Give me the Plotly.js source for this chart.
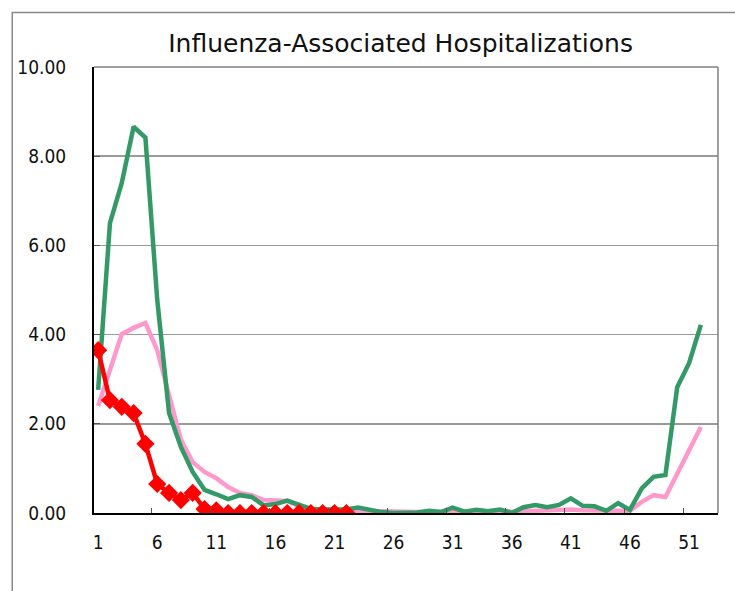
<!DOCTYPE html>
<html>
<head>
<meta charset="utf-8">
<script src="https://cdn.plot.ly/plotly-3.0.1.min.js"></script>
<style>
html,body{margin:0;padding:0;background:#fff;}
#chart{width:735px;height:591px;}
</style>
</head>
<body>
<div id="chart"></div>
<script>
const weeks = [1,2,3,4,5,6,7,8,9,10,11,12,13,14,15,16,17,18,19,20,21,22,23,24,25,26,27,28,29,30,31,32,33,34,35,36,37,38,39,40,41,42,43,44,45,46,47,48,49,50,51,52];
const pinkSeries = [2.40,3.20,4.01,4.15,4.26,3.65,2.69,1.64,1.14,0.92,
  0.78,0.58,0.45,0.40,0.29,0.28,0.27,0.15,0.10,0.08,
  0.06,0.05,0.05,0.04,0.03,0.02,0.02,0.02,0.02,0.03,
  0.03,0.03,0.04,0.04,0.05,0.03,0.04,0.05,0.05,0.08,
  0.08,0.06,0.05,0.04,0.05,0.05,0.25,0.40,0.36,0.88,
  1.40,1.93];
const greenSeries = [2.76,6.50,7.40,8.66,8.42,4.78,2.24,1.48,0.92,0.52,
  0.42,0.31,0.40,0.36,0.17,0.20,0.28,0.18,0.09,0.08,
  0.08,0.08,0.12,0.06,0.02,0.00,0.00,0.01,0.05,0.02,
  0.12,0.03,0.07,0.04,0.08,0.00,0.13,0.18,0.13,0.18,
  0.33,0.16,0.15,0.05,0.22,0.07,0.55,0.81,0.85,2.82,
  3.36,4.22];
const redSeries = [3.65,2.53,2.38,2.24,1.55,0.65,0.45,0.29,0.45,0.09,
  0.06,0,0,0,0,0,0,0,0,0,0,0];
const xTickVals = [1,6,11,16,21,26,31,36,41,46,51];
const xTickText = ['1','6','11','16','21','26','31','36','41','46','51'];
const xMinorTicks = [5.5,10.5,15.5,20.5,25.5,30.5,35.5,40.5,45.5,50.5];
const yTickVals = [0,2,4,6,8,10];
const yTickText = ['0.00','2.00','4.00','6.00','8.00','10.00'];

const FONT = 'DejaVu Sans Condensed, DejaVu Sans, sans-serif';
const TFONT = 'DejaVu Sans, sans-serif';

const traces = [
  {x: weeks, y: pinkSeries, type:'scatter', mode:'lines',
   line:{color:'#FF99CC', width:4.5}, hoverinfo:'skip'},
  {x: weeks, y: greenSeries, type:'scatter', mode:'lines',
   line:{color:'#339966', width:4.5}, hoverinfo:'skip'},
  {x: weeks.slice(0, redSeries.length), y: redSeries, type:'scatter', mode:'lines+markers',
   line:{color:'#FF0000', width:4.5},
   marker:{symbol:'diamond', size:14, color:'#FF0000'}, hoverinfo:'skip'}
];

const layout = {
  width:735, height:591,
  margin:{l:94, r:17, t:67, b:78},
  paper_bgcolor:'#ffffff', plot_bgcolor:'#ffffff',
  showlegend:false,
  title:{text:'Influenza-Associated Hospitalizations', x:0.545, xanchor:'center', y:0.927, yanchor:'middle',
         font:{family:TFONT, size:25, color:'#111'}},
  xaxis:{range:[0.65,53.45], tickmode:'array', tickvals:xTickVals, ticktext:xTickText,
         ticks:'', showgrid:false, zeroline:false, showline:true, linecolor:'#000', linewidth:2,
         ticklabelstandoff:11,
         tickfont:{family:FONT, size:19, color:'#111'},
         minor:{tickmode:'array', tickvals:xMinorTicks, ticks:'inside', ticklen:5, tickcolor:'#555', tickwidth:1, showgrid:false}},
  yaxis:{range:[0,10], tickmode:'array', tickvals:yTickVals, ticktext:yTickText,
         ticks:'inside', ticklen:6, tickcolor:'#555', showgrid:true, gridcolor:'#9a9a9a', gridwidth:1.5,
         zeroline:false, showline:true, linecolor:'#000', linewidth:2,
         ticklabelstandoff:22,
         tickfont:{family:FONT, size:19, color:'#111'}},
  shapes:[
    {type:'line', xref:'paper', yref:'paper', x0:0, x1:1, y0:1, y1:1, line:{color:'#808080', width:1.5}},
    {type:'line', xref:'paper', yref:'paper', x0:1, x1:1, y0:0, y1:1, line:{color:'#808080', width:1.5}},
    {type:'rect', xref:'paper', yref:'paper', x0:-0.131, x1:1.1, y0:-0.3, y1:1.122, line:{color:'#888', width:1.5}, layer:'below'}
  ]
};

Plotly.newPlot('chart', traces, layout, {staticPlot:true, displayModeBar:false});
</script>
</body>
</html>
